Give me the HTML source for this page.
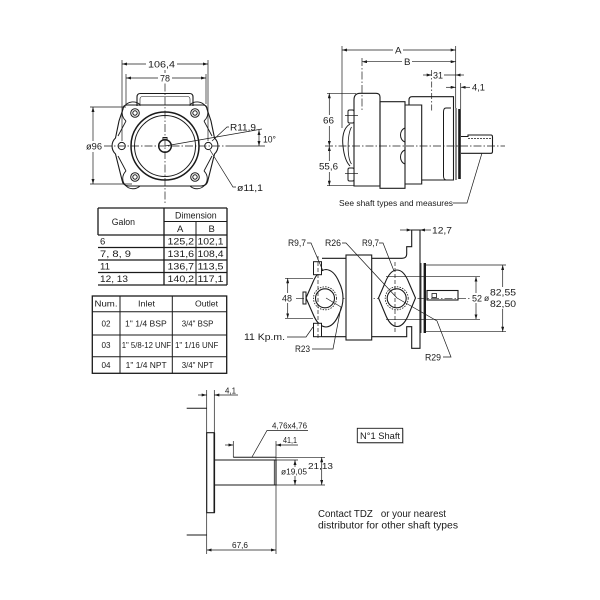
<!DOCTYPE html>
<html><head><meta charset="utf-8"><style>
html,body{margin:0;padding:0;background:#fff;}
svg{display:block;}
text{font-family:"Liberation Sans",sans-serif;fill:#1a1a1a;font-size:9.5px;}
</style></head><body>
<svg width="600" height="600" viewBox="0 0 600 600" xmlns="http://www.w3.org/2000/svg">
<defs>
<marker id="a" viewBox="0 0 10 6" refX="10" refY="3" markerWidth="5" markerHeight="3" orient="auto-start-reverse" markerUnits="userSpaceOnUse"><path d="M0,0L10,3L0,6z" fill="#1a1a1a"/></marker>
</defs>
<rect width="600" height="600" fill="#fff"/>

<!-- ============ TOP-LEFT FRONT VIEW ============ -->
<g fill="none" stroke="#1a1a1a">
  <!-- centerlines -->
  <g stroke-width="0.7" stroke-dasharray="8 2 1.5 2">
    <line x1="165" y1="70" x2="165" y2="205"/>
    <line x1="104" y1="146" x2="226" y2="146"/>
  </g>
  <!-- dims -->
  <g stroke-width="0.7">
    <line x1="122" y1="60" x2="122" y2="141"/>
    <line x1="208" y1="60" x2="208" y2="141"/>
    <line x1="122" y1="64" x2="208" y2="64" marker-start="url(#a)" marker-end="url(#a)"/>
    <line x1="126" y1="74" x2="126" y2="104"/>
    <line x1="206" y1="74" x2="206" y2="104"/>
    <line x1="126" y1="78" x2="206" y2="78" marker-start="url(#a)" marker-end="url(#a)"/>
    <line x1="90" y1="107" x2="126" y2="107"/>
    <line x1="90" y1="184" x2="132" y2="184"/>
    <line x1="93" y1="107" x2="93" y2="184" marker-start="url(#a)" marker-end="url(#a)"/>
    <line x1="165" y1="146" x2="262" y2="129"/>
    <line x1="226" y1="146" x2="265" y2="146"/>
    <line x1="259" y1="130" x2="259" y2="146" marker-start="url(#a)" marker-end="url(#a)"/>
    <polyline points="212,141 227,127 229,127"/>
    <polyline points="210,150 233,187 236,187"/>
  </g>
  <!-- top cover -->
  <path d="M137,106 V97 Q137,93.5 140.5,93.5 H189.5 Q193,93.5 193,97 V106" stroke-width="1.1"/>
  <path d="M140,106 V99 Q140,96.5 143,96.5 H187 Q190,96.5 190,99 V106" stroke-width="0.6"/>
  <!-- housing outline -->
  <path d="M127,105 H203 Q207,105 207,109 L211,121 L214.5,138 A11,11 0 0 1 214.5,154 L211,168 L208,180 Q207,186 201,186 H129 Q123,186 122,180 L119,168 L115.5,154 A11,11 0 0 1 115.5,138 L119,121 L123,109 Q123,105 127,105 Z" stroke-width="1.1"/>
  <!-- plate bosses -->
  <g stroke-width="0.9">
    <path d="M126,121 A9.5,9.5 0 0 1 140,104.5"/>
    <path d="M190,104.5 A9.5,9.5 0 0 1 204,121"/>
    <path d="M126,171 A9.5,9.5 0 0 0 140,186"/>
    <path d="M190,186 A9.5,9.5 0 0 0 204,171"/>
    <path d="M126,121 L118,136"/>
    <path d="M204,121 L212,136"/>
    <path d="M126,171 L118,156"/>
    <path d="M204,171 L212,156"/>
  </g>
  <!-- bolts -->
  <g stroke-width="1">
    <circle cx="135" cy="113" r="4.3"/><circle cx="135" cy="113" r="2.2"/>
    <circle cx="195" cy="113" r="4.3"/><circle cx="195" cy="113" r="2.2"/>
    <circle cx="135" cy="177" r="4.3"/><circle cx="135" cy="177" r="2.2"/>
    <circle cx="195" cy="177" r="4.3"/><circle cx="195" cy="177" r="2.2"/>
    <circle cx="121.7" cy="146" r="3.6"/>
    <circle cx="208.3" cy="146" r="3.6"/>
  </g>
  <!-- big circles -->
  <circle cx="165" cy="146" r="34" stroke-width="1.5"/>
  <circle cx="165" cy="146" r="30.5" stroke-width="1"/>
  <circle cx="165" cy="146" r="6.3" stroke-width="1.5"/>
  <path d="M163,140 V137.5 H167 V140" stroke-width="1"/>
</g>
<g>
  <rect x="146" y="59" width="31" height="10" fill="#fff"/>
  <text x="148" y="67.5" textLength="27" lengthAdjust="spacingAndGlyphs">106,4</text>
  <rect x="158" y="73" width="14" height="10" fill="#fff"/>
  <text x="160" y="81.5" textLength="10" lengthAdjust="spacingAndGlyphs">78</text>
  <rect x="85" y="141" width="18" height="11" fill="#fff"/>
  <text x="86" y="149.5" textLength="16" lengthAdjust="spacingAndGlyphs">ø96</text>
  <text x="230" y="130.5" textLength="26" lengthAdjust="spacingAndGlyphs">R11,9</text>
  <text x="263" y="142.5" textLength="13" lengthAdjust="spacingAndGlyphs">10°</text>
  <text x="237" y="191" textLength="26" lengthAdjust="spacingAndGlyphs">ø11,1</text>
</g>

<!-- ============ TOP-RIGHT SIDE VIEW ============ -->
<g fill="none" stroke="#1a1a1a">
  <line x1="325" y1="146" x2="505" y2="146" stroke-width="0.7" stroke-dasharray="8 2 1.5 2"/>
  <g stroke-width="0.7">
    <line x1="342" y1="46" x2="342" y2="128"/>
    <line x1="362" y1="58" x2="362" y2="112" stroke-dasharray="8 2 1.5 2"/>
    <line x1="455.7" y1="46" x2="455.7" y2="108"/>
    <line x1="342" y1="50" x2="455.7" y2="50" marker-start="url(#a)" marker-end="url(#a)"/>
    <line x1="362" y1="61.7" x2="455.7" y2="61.7" marker-start="url(#a)" marker-end="url(#a)"/>
    <line x1="431.7" y1="70" x2="431.7" y2="111" stroke-dasharray="6 2 1.5 2"/>
    <line x1="423" y1="75" x2="431.7" y2="75" marker-end="url(#a)"/>
    <line x1="431.7" y1="75" x2="455.7" y2="75"/>
    <line x1="464" y1="75" x2="455.7" y2="75" marker-end="url(#a)"/>
    <line x1="460.7" y1="83" x2="460.7" y2="109"/>
    <line x1="446" y1="87.3" x2="455.7" y2="87.3" marker-end="url(#a)"/>
    <line x1="470" y1="87.3" x2="460.7" y2="87.3" marker-end="url(#a)"/>
    <line x1="327" y1="93.3" x2="356" y2="93.3"/>
    <line x1="327" y1="185.7" x2="354" y2="185.7"/>
    <line x1="329.3" y1="93.3" x2="329.3" y2="146" marker-start="url(#a)" marker-end="url(#a)"/>
    <line x1="329.3" y1="146" x2="329.3" y2="185.7" marker-start="url(#a)" marker-end="url(#a)"/>
    <polyline points="453,203 467,203 482,153"/>
  </g>
  <!-- rear cover -->
  <path d="M354,186 V100 Q354,93.3 360,93.3 H376 Q380,93.3 380,97 V186 Z" stroke-width="1.1"/>
  <!-- bolts -->
  <g stroke-width="1">
    <rect x="348" y="110" width="6" height="13" rx="1.5" fill="#fff"/>
    <rect x="348" y="168" width="6" height="13" rx="1.5" fill="#fff"/>
    <line x1="345" y1="115.5" x2="358" y2="115.5" stroke-width="0.7"/>
    <line x1="345" y1="173.5" x2="358" y2="173.5" stroke-width="0.7"/>
    <path d="M350,124 C343,128 342,138 343,146 C344,156 346,162 350,166"/>
    <path d="M351.5,127 C347,135 347,158 351.5,164" stroke-width="0.8"/>
  </g>
  <!-- middle body -->
  <rect x="380" y="101.7" width="25" height="86.6" stroke-width="1.1"/>
  <path d="M405,128 C399,130 399,140 405,142 M405,150 C399,152 399,162 405,164" stroke-width="1"/>
  <!-- front housing -->
  <path d="M405,105 H421.7 V184 H405" stroke-width="1.1"/>
  <path d="M409,105 V100 Q409,96.7 412,96.7 H453.5 V180 H421.7" stroke-width="1.1"/>
  <path d="M451,108 H446 Q443.5,108 443.5,112 V176 Q443.5,179.5 446,180" stroke-width="1"/>
  <line x1="456" y1="108" x2="456" y2="180" stroke-width="1"/>
  <line x1="459.5" y1="109" x2="459.5" y2="179" stroke-width="2.6"/>
  <!-- shaft -->
  <path d="M461,136.5 H468 V135 H491 Q492.5,135 492.5,137 V151.5 Q492.5,153.3 491,153.3 H461" stroke-width="1.1"/>
  <line x1="468" y1="138.5" x2="491" y2="138.5" stroke-width="0.8" stroke-dasharray="2 1"/>
</g>
<g>
  <rect x="393" y="45" width="10" height="10" fill="#fff"/>
  <text x="395" y="53.5" textLength="6.5" lengthAdjust="spacingAndGlyphs">A</text>
  <rect x="402" y="57" width="10" height="10" fill="#fff"/>
  <text x="404" y="65" textLength="6.5" lengthAdjust="spacingAndGlyphs">B</text>
  <rect x="432" y="70" width="12" height="10" fill="#fff"/>
  <text x="433" y="78.5" textLength="10" lengthAdjust="spacingAndGlyphs">31</text>
  <text x="472" y="90.5" textLength="13" lengthAdjust="spacingAndGlyphs">4,1</text>
  <rect x="322" y="115" width="13" height="11" fill="#fff"/>
  <text x="323" y="123.5" textLength="11" lengthAdjust="spacingAndGlyphs">66</text>
  <rect x="318" y="161" width="21" height="11" fill="#fff"/>
  <text x="319" y="169.5" textLength="19" lengthAdjust="spacingAndGlyphs">55,6</text>
  <text x="339" y="206" style="font-size:8.5px" textLength="114" lengthAdjust="spacingAndGlyphs">See shaft types and measures</text>
</g>

<!-- ============ TABLE 1 ============ -->
<g fill="none" stroke="#1a1a1a" stroke-width="1.3">
  <line x1="98" y1="208" x2="227" y2="208"/>
  <line x1="164" y1="221.5" x2="227" y2="221.5" stroke-width="1"/>
  <line x1="98" y1="235" x2="227" y2="235"/>
  <line x1="98" y1="247.5" x2="227" y2="247.5"/>
  <line x1="98" y1="260" x2="227" y2="260"/>
  <line x1="98" y1="272.5" x2="227" y2="272.5"/>
  <line x1="98" y1="285" x2="227" y2="285"/>
  <line x1="98" y1="208" x2="98" y2="235"/>
  <line x1="164" y1="208" x2="164" y2="285"/>
  <line x1="196" y1="221.5" x2="196" y2="285" stroke-width="1"/>
  <line x1="227" y1="208" x2="227" y2="285"/>
</g>
<g>
  <text x="111.7" y="225" textLength="23.3" lengthAdjust="spacingAndGlyphs">Galon</text>
  <text x="175" y="218.5" textLength="41.7" lengthAdjust="spacingAndGlyphs">Dimension</text>
  <text x="177" y="232">A</text>
  <text x="208.5" y="232">B</text>
  <text x="100" y="244.7">6</text>
  <text x="100" y="257.2" textLength="31" lengthAdjust="spacingAndGlyphs">7, 8, 9</text>
  <text x="100" y="269.7" textLength="10" lengthAdjust="spacingAndGlyphs">11</text>
  <text x="100" y="282.2" textLength="28" lengthAdjust="spacingAndGlyphs">12, 13</text>
  <text x="167.5" y="244.7" textLength="26.6" lengthAdjust="spacingAndGlyphs">125,2</text>
  <text x="197.5" y="244.7" textLength="26" lengthAdjust="spacingAndGlyphs">102,1</text>
  <text x="167.5" y="257.2" textLength="26.6" lengthAdjust="spacingAndGlyphs">131,6</text>
  <text x="197.5" y="257.2" textLength="26" lengthAdjust="spacingAndGlyphs">108,4</text>
  <text x="167.5" y="269.7" textLength="26.6" lengthAdjust="spacingAndGlyphs">136,7</text>
  <text x="197.5" y="269.7" textLength="26" lengthAdjust="spacingAndGlyphs">113,5</text>
  <text x="167.5" y="282.2" textLength="26.6" lengthAdjust="spacingAndGlyphs">140,2</text>
  <text x="197.5" y="282.2" textLength="26" lengthAdjust="spacingAndGlyphs">117,1</text>
</g>

<!-- ============ TABLE 2 ============ -->
<g fill="none" stroke="#1a1a1a" stroke-width="1.3">
  <rect x="92.3" y="296" width="134.4" height="77.3"/>
  <line x1="120" y1="296" x2="120" y2="373.3" stroke-width="1"/>
  <line x1="172.3" y1="296" x2="172.3" y2="373.3" stroke-width="1"/>
  <line x1="92.3" y1="311.7" x2="226.7" y2="311.7" stroke-width="1"/>
  <line x1="92.3" y1="335" x2="226.7" y2="335" stroke-width="1"/>
  <line x1="92.3" y1="356.7" x2="226.7" y2="356.7" stroke-width="1"/>
</g>
<g style="font-size:8px">
  <text x="94.5" y="306.5" style="font-size:8px" textLength="23" lengthAdjust="spacingAndGlyphs">Num.</text>
  <text x="138" y="306.5" style="font-size:8px" textLength="17" lengthAdjust="spacingAndGlyphs">Inlet</text>
  <text x="195" y="306.5" style="font-size:8px" textLength="23" lengthAdjust="spacingAndGlyphs">Outlet</text>
  <text x="101.5" y="326.3" style="font-size:8px" textLength="9" lengthAdjust="spacingAndGlyphs">02</text>
  <text x="101.5" y="348" style="font-size:8px" textLength="9" lengthAdjust="spacingAndGlyphs">03</text>
  <text x="101.5" y="368" style="font-size:8px" textLength="9" lengthAdjust="spacingAndGlyphs">04</text>
  <text x="125" y="326.3" style="font-size:8px" textLength="41.7" lengthAdjust="spacingAndGlyphs">1" 1/4 BSP</text>
  <text x="181.7" y="326.3" style="font-size:8px" textLength="31.7" lengthAdjust="spacingAndGlyphs">3/4" BSP</text>
  <text x="121.7" y="348" style="font-size:8px" textLength="49.3" lengthAdjust="spacingAndGlyphs">1" 5/8-12 UNF</text>
  <text x="175" y="348" style="font-size:8px" textLength="43.3" lengthAdjust="spacingAndGlyphs">1" 1/16 UNF</text>
  <text x="125.7" y="368" style="font-size:8px" textLength="41" lengthAdjust="spacingAndGlyphs">1" 1/4 NPT</text>
  <text x="181.7" y="368" style="font-size:8px" textLength="31.7" lengthAdjust="spacingAndGlyphs">3/4" NPT</text>
</g>

<!-- ============ MIDDLE SECTION VIEW ============ -->
<g fill="none" stroke="#1a1a1a">
  <line x1="296" y1="298.3" x2="478" y2="298.3" stroke-width="0.7" stroke-dasharray="8 2 1.5 2"/>
  <!-- body -->
  <path d="M322,258.3 H402 Q406.7,258.3 406.7,254 V246.7 H411.7 V230 H420 V348.3 H411.7 V326.7 H406.7 V336.7 H322" stroke-width="1.1"/>
  <!-- stator ring -->
  <rect x="346" y="255" width="25.7" height="85" fill="#fff" stroke-width="1.1"/>
  <!-- left flange -->
  <path d="M306,298 L313,282 Q318,270 326,269.5 Q334,270 339,282 Q343,290 343,298 Q343,306 339,314 Q334,326.5 326,327 Q318,326.5 313,314 Z" fill="#fff" stroke-width="1.1"/>
  <rect x="303" y="292" width="3" height="12" stroke-width="1"/>
  <rect x="313.5" y="261.7" width="8" height="13" fill="#fff" stroke-width="1"/>
  <rect x="313.5" y="323.3" width="8" height="13.4" fill="#fff" stroke-width="1"/>
  <line x1="318" y1="256" x2="318" y2="340" stroke-width="0.7" stroke-dasharray="4 2"/>
  <circle cx="325" cy="298.3" r="9.5" stroke-width="1.1"/>
  <circle cx="325" cy="298.3" r="11.5" stroke-width="0.8" stroke-dasharray="1.5 1.2"/>
  <!-- right flange -->
  <path d="M378.5,298 L385,283 Q390,270 397,270 Q404,270 409,283 L415.5,298 L409,313.5 Q404,326.5 397,326.5 Q390,326.5 385,313.5 Z" fill="#fff" stroke-width="1.1"/>
  <line x1="395" y1="262" x2="395" y2="334" stroke-width="0.7" stroke-dasharray="4 2"/>
  <circle cx="396.7" cy="298.3" r="9.5" stroke-width="1.1"/>
  <circle cx="396.7" cy="298.3" r="11.5" stroke-width="0.8" stroke-dasharray="1.5 1.2"/>
  <!-- mounting plate -->
  <line x1="421" y1="263" x2="421" y2="333" stroke-width="0.8"/>
  <line x1="424.8" y1="263" x2="424.8" y2="333" stroke-width="2.4"/>
  <g stroke-width="0.7">
    <line x1="425" y1="265" x2="506" y2="265"/>
    <line x1="425" y1="331.7" x2="506" y2="331.7"/>
    <line x1="386" y1="276.7" x2="480" y2="276.7"/>
    <line x1="386" y1="319.3" x2="480" y2="319.3"/>
    <line x1="285" y1="278.3" x2="313" y2="278.3"/>
    <line x1="285" y1="318.3" x2="313" y2="318.3"/>
    <line x1="287.7" y1="278.3" x2="287.7" y2="318.3" marker-start="url(#a)" marker-end="url(#a)"/>
    <line x1="476" y1="276.7" x2="476" y2="319.3" marker-start="url(#a)" marker-end="url(#a)"/>
    <line x1="502.7" y1="265" x2="502.7" y2="331.7" marker-start="url(#a)" marker-end="url(#a)"/>
    <line x1="400" y1="230" x2="411.7" y2="230" marker-end="url(#a)"/>
    <line x1="431" y1="230" x2="420" y2="230" marker-end="url(#a)"/>
    <!-- leaders -->
    <polyline points="307,243 311,243 323,271"/>
    <polyline points="342,243 346,243 397,298"/>
    <polyline points="379,243 383,243 394,271"/>
    <polyline points="397,298 437,321 451,357 443,357"/>
    <polyline points="326,298 341,307 333,349 312,349"/>
    <polyline points="287,337 306,337 313,327"/>
  </g>
  <!-- shaft -->
  <rect x="427" y="290.5" width="31" height="9.5" stroke-width="1.1"/>
  <rect x="432" y="293.5" width="4.5" height="4" stroke-width="0.8"/>
</g>
<g>
  <text x="432" y="233.5" textLength="20" lengthAdjust="spacingAndGlyphs">12,7</text>
  <text x="288" y="246" textLength="18" lengthAdjust="spacingAndGlyphs">R9,7</text>
  <text x="325" y="246" textLength="16" lengthAdjust="spacingAndGlyphs">R26</text>
  <text x="362" y="246" textLength="17" lengthAdjust="spacingAndGlyphs">R9,7</text>
  <rect x="281" y="293" width="12" height="10" fill="#fff"/>
  <text x="282" y="301.5" textLength="10" lengthAdjust="spacingAndGlyphs">48</text>
  <rect x="471" y="293" width="12" height="10" fill="#fff"/>
  <text x="472" y="301.5" textLength="10" lengthAdjust="spacingAndGlyphs">52</text>
  <rect x="483" y="287" width="35" height="22" fill="#fff"/>
  <text x="484" y="301" style="font-size:8.5px">ø</text>
  <text x="490" y="295.5" textLength="26" lengthAdjust="spacingAndGlyphs">82,55</text>
  <text x="490" y="307" textLength="26" lengthAdjust="spacingAndGlyphs">82,50</text>
  <text x="244" y="340" textLength="41" lengthAdjust="spacingAndGlyphs">11  Kp.m.</text>
  <text x="295" y="352" textLength="15" lengthAdjust="spacingAndGlyphs">R23</text>
  <text x="425" y="360.5" textLength="16" lengthAdjust="spacingAndGlyphs">R29</text>
</g>

<!-- ============ BOTTOM SHAFT VIEW ============ -->
<g fill="none" stroke="#1a1a1a">
  <g stroke-width="0.7">
    <line x1="206.7" y1="390" x2="206.7" y2="554"/>
    <line x1="214.3" y1="390" x2="214.3" y2="433"/>
    <line x1="198" y1="395" x2="206.7" y2="395" marker-end="url(#a)"/>
    <line x1="238" y1="395" x2="214.3" y2="395" marker-end="url(#a)"/>
    <line x1="276" y1="441" x2="276" y2="554"/>
    <line x1="233.3" y1="441" x2="233.3" y2="457.3"/>
    <line x1="225" y1="445" x2="233.3" y2="445" marker-end="url(#a)"/>
    <line x1="298" y1="445" x2="276" y2="445" marker-end="url(#a)"/>
    <line x1="276" y1="457.3" x2="325" y2="457.3"/>
    <line x1="276" y1="485" x2="325" y2="485"/>
    <line x1="276" y1="460" x2="298" y2="460"/>
    <line x1="295" y1="460" x2="295" y2="485" marker-start="url(#a)" marker-end="url(#a)"/>
    <line x1="321.7" y1="457.3" x2="321.7" y2="485" marker-start="url(#a)" marker-end="url(#a)"/>
    <line x1="206.7" y1="550" x2="276" y2="550" marker-start="url(#a)" marker-end="url(#a)"/>
    <polyline points="308,430.5 267,430.5 252,457"/>
  </g>
  <line x1="186.7" y1="408.3" x2="206.7" y2="408.3" stroke-width="1"/>
  <line x1="186.7" y1="535" x2="206.7" y2="535" stroke-width="1"/>
  <rect x="206.7" y="432.7" width="7.6" height="80" stroke-width="1.1"/>
  <line x1="214.3" y1="432.7" x2="214.3" y2="512.7" stroke-width="1.6"/>
  <path d="M214.3,460 H276 V485 H214.3" stroke-width="1.1"/>
  <line x1="233.3" y1="457.3" x2="276" y2="457.3" stroke-width="1"/>
  <line x1="274.3" y1="460" x2="274.3" y2="485" stroke-width="0.8"/>
  <!-- N1 shaft box -->
  <rect x="358.5" y="429.5" width="45.5" height="14.5" fill="#ddd" stroke="none"/>
  <rect x="357.3" y="428.3" width="45.4" height="14.4" fill="#fff" stroke-width="0.9"/>
</g>
<g>
  <text x="225" y="393.5" style="font-size:8px" textLength="11" lengthAdjust="spacingAndGlyphs">4,1</text>
  <text x="272" y="428.5" style="font-size:8px" textLength="35" lengthAdjust="spacingAndGlyphs">4,76x4,76</text>
  <text x="283" y="443" style="font-size:8px" textLength="14" lengthAdjust="spacingAndGlyphs">41,1</text>
  <rect x="280" y="467" width="28" height="9" fill="#fff"/>
  <text x="281" y="474.5" style="font-size:8px" textLength="26" lengthAdjust="spacingAndGlyphs">ø19,05</text>
  <text x="308" y="469" style="font-size:8px" textLength="25" lengthAdjust="spacingAndGlyphs">21,13</text>
  <text x="232" y="548" style="font-size:8px" textLength="16" lengthAdjust="spacingAndGlyphs">67,6</text>
  <text x="360" y="439" style="font-size:9px" textLength="40" lengthAdjust="spacingAndGlyphs">N°1 Shaft</text>
  <text x="318" y="517" style="font-size:10.3px" textLength="128" lengthAdjust="spacingAndGlyphs">Contact TDZ&#160;&#160; or your nearest</text>
  <text x="318" y="528.5" style="font-size:10.3px" textLength="140" lengthAdjust="spacingAndGlyphs">distributor for other shaft types</text>
</g>
</svg>
</body></html>
